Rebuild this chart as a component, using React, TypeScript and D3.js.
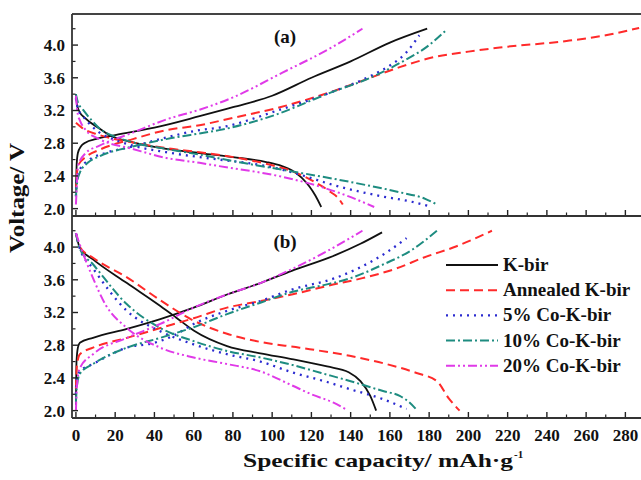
import React from 'react';
import * as d3 from 'd3';

// ---------- data (capacity mAh/g, voltage V) ----------
const seriesNames = ['K-bir', 'Annealed K-bir', '5% Co-K-bir', '10% Co-K-bir', '20% Co-K-bir'];
const xTickValues = d3.range(0, 281, 20);
const xMinorValues = d3.range(10, 290, 20);
const yTickValues = [2.0, 2.4, 2.8, 3.2, 3.6, 4.0];
const yMinorValues = [2.2, 2.6, 3.0, 3.4, 3.8, 4.2];

// panel (a)
const kbirChargeA = [[0, 2.2], [0.4, 2.55], [1, 2.68], [2.5, 2.76], [5, 2.81], [10, 2.85], [20, 2.9], [40, 2.99], [63, 3.13], [80, 3.24], [100, 3.38], [120, 3.6], [140, 3.8], [160, 4.03], [179, 4.2]];
const kbirDischargeA = [[0, 3.4], [0.5, 3.28], [1.5, 3.2], [5, 3.1], [12, 2.98], [17, 2.9], [29, 2.81], [46, 2.73], [63, 2.68], [80, 2.63], [97, 2.57], [105, 2.52], [110, 2.47], [115, 2.38], [119, 2.27], [122, 2.16], [125, 2.02]];
const annealedChargeA = [[0, 2.2], [0.5, 2.42], [1, 2.52], [5.5, 2.64], [12, 2.72], [29, 2.85], [46, 2.96], [63, 3.02], [80, 3.11], [104, 3.24], [134, 3.46], [150, 3.6], [165, 3.73], [182, 3.85], [200, 3.92], [216, 3.97], [250, 4.05], [270, 4.12], [287, 4.21]];
const annealedDischargeA = [[0, 3.05], [3, 2.99], [12, 2.9], [29, 2.81], [46, 2.74], [63, 2.69], [85, 2.61], [100, 2.53], [110, 2.46], [122, 2.32], [130, 2.2], [134, 2.12], [136, 2.05]];
const co5ChargeA = [[0, 2.15], [0.5, 2.35], [2, 2.48], [7, 2.6], [15, 2.68], [29, 2.76], [46, 2.87], [63, 2.96], [73, 2.99], [104, 3.21], [131, 3.43], [150, 3.62], [160, 3.75], [168, 3.9], [175, 4.12]];
const co5DischargeA = [[0, 3.35], [1, 3.22], [3.6, 3.13], [12, 2.93], [20, 2.84], [29, 2.77], [46, 2.69], [63, 2.63], [73, 2.6], [97, 2.52], [115, 2.41], [131, 2.29], [156, 2.15], [170, 2.09], [180, 2.03]];
const co10ChargeA = [[0, 2.15], [0.5, 2.3], [2, 2.44], [6, 2.56], [12, 2.64], [29, 2.76], [46, 2.85], [63, 2.92], [73, 2.96], [97, 3.11], [131, 3.43], [150, 3.6], [165, 3.78], [180, 4.0], [189, 4.19]];
const co10DischargeA = [[0, 3.4], [1, 3.3], [3.6, 3.21], [8, 3.08], [12, 2.98], [20, 2.88], [29, 2.81], [46, 2.73], [63, 2.66], [85, 2.56], [109, 2.46], [139, 2.33], [165, 2.2], [178, 2.12], [184, 2.05]];
const co20ChargeA = [[0, 2.05], [0.5, 2.3], [1, 2.52], [5, 2.68], [12, 2.77], [29, 2.93], [46, 3.09], [63, 3.21], [80, 3.36], [105, 3.66], [131, 3.98], [146, 4.2]];
const co20DischargeA = [[0, 3.38], [1, 3.15], [2, 3.08], [5, 2.96], [12, 2.85], [29, 2.73], [46, 2.62], [63, 2.56], [73, 2.52], [105, 2.39], [123, 2.28], [139, 2.15], [152, 2.02]];

// panel (b)
const kbirChargeB = [[0, 2.07], [0.3, 2.6], [1, 2.77], [2, 2.83], [8.7, 2.89], [26, 3.0], [43, 3.12], [60, 3.26], [77, 3.42], [94, 3.56], [110, 3.71], [129, 3.87], [145, 4.04], [156, 4.18]];
const kbirDischargeB = [[0, 4.17], [2, 3.99], [8.7, 3.85], [26, 3.56], [43, 3.28], [51, 3.14], [60, 2.98], [77, 2.79], [94, 2.7], [110, 2.63], [128, 2.54], [139, 2.47], [145, 2.36], [150, 2.18], [153, 2.0]];
const annealedChargeB = [[0, 2.27], [0.5, 2.55], [2, 2.69], [8.7, 2.77], [26, 2.89], [43, 3.01], [60, 3.13], [77, 3.26], [94, 3.34], [110, 3.42], [129, 3.53], [146, 3.62], [163.5, 3.74], [177, 3.87], [194, 4.01], [212, 4.2]];
const annealedDischargeB = [[0, 4.17], [2, 4.0], [8.7, 3.87], [26, 3.63], [43, 3.35], [60, 3.1], [77, 2.94], [94, 2.84], [114, 2.77], [139.5, 2.67], [156.5, 2.58], [173.6, 2.46], [184, 2.36], [190, 2.15], [195.5, 2.0]];
const co5ChargeB = [[0, 2.2], [0.5, 2.38], [2, 2.48], [8.7, 2.57], [26, 2.77], [40, 2.83], [50, 2.92], [60, 3.06], [77, 3.22], [94, 3.34], [110, 3.48], [132, 3.62], [143, 3.73], [158, 3.93], [168.5, 4.11]];
const co5DischargeB = [[0, 4.17], [2, 3.98], [8.7, 3.74], [26, 3.22], [43, 2.97], [60, 2.81], [77, 2.69], [94, 2.6], [110, 2.47], [128, 2.35], [140, 2.26], [156.5, 2.14], [168.5, 2.02]];
const co10ChargeB = [[0, 2.1], [0.5, 2.3], [2, 2.45], [8.7, 2.57], [26, 2.77], [43, 2.89], [60, 3.02], [77, 3.18], [94, 3.32], [110, 3.45], [129, 3.55], [140, 3.62], [155, 3.77], [171.5, 3.97], [184, 4.2]];
const co10DischargeB = [[0, 4.17], [2, 3.98], [8.7, 3.79], [26, 3.3], [43, 3.01], [60, 2.85], [77, 2.73], [94, 2.65], [110, 2.56], [125, 2.46], [140, 2.36], [156.5, 2.24], [165, 2.18], [170, 2.1], [174, 2.0]];
const co20ChargeB = [[0, 2.0], [0.5, 2.3], [2, 2.52], [8.7, 2.69], [26, 2.89], [43, 3.06], [60, 3.26], [77, 3.42], [94, 3.56], [110, 3.73], [128, 3.95], [146, 4.2]];
const co20DischargeB = [[0, 4.17], [2, 4.03], [8.7, 3.62], [15, 3.3], [26, 3.01], [43, 2.77], [60, 2.65], [77, 2.57], [94, 2.48], [110, 2.31], [120, 2.2], [131, 2.1], [138, 2.01]];

// ---------- styles ----------
const seriesStyles = [
  { color: '#111111', dash: 'none', width: 1.8 },
  { color: '#ff2a2a', dash: '9,5', width: 2 },
  { color: '#2b2bd0', dash: '2,5', width: 2.3 },
  { color: '#1e8c80', dash: '9,3,2,3', width: 2 },
  { color: '#e03ae8', dash: '9,3,2,3,2,3', width: 2 },
];

const FONT = '"Liberation Serif", "Times New Roman", serif';
const W = 641;
const H = 480;
const LEFT = 72;
const RIGHT = 645;

const x = d3.scaleLinear().domain([-2, 290]).range([LEFT, RIGHT]);

const panels = [
  {
    id: 'a', label: '(a)', top: 14, bottom: 216, labelY: 43,
    curves: [[kbirChargeA, kbirDischargeA], [annealedChargeA, annealedDischargeA], [co5ChargeA, co5DischargeA], [co10ChargeA, co10DischargeA], [co20ChargeA, co20DischargeA]],
  },
  {
    id: 'b', label: '(b)', top: 216, bottom: 418, labelY: 248,
    curves: [[kbirChargeB, kbirDischargeB], [annealedChargeB, annealedDischargeB], [co5ChargeB, co5DischargeB], [co10ChargeB, co10DischargeB], [co20ChargeB, co20DischargeB]],
  },
];

export default function App() {
  const legendYs = seriesNames.map((_, i) => 265 + i * 25.2);
  return (
    <svg width={W} height={H} style={{ position: 'absolute', left: 0, top: 0, background: '#fff' }} fontFamily={FONT}>
      <rect x={0} y={0} width={W} height={H} fill="#fff" />
      <defs>
        {panels.map((p) => (
          <clipPath id={`clip-${p.id}`} key={p.id}>
            <rect x={LEFT} y={p.top} width={RIGHT - LEFT} height={p.bottom - p.top} />
          </clipPath>
        ))}
      </defs>
      {panels.map((p) => {
        const y = d3.scaleLinear().domain([1.91, 4.38]).range([p.bottom, p.top]);
        const line = d3.line<number[]>().x((d) => x(d[0])).y((d) => y(d[1])).curve(d3.curveMonotoneX);
        return (
          <g key={p.id}>
            <g clipPath={`url(#clip-${p.id})`}>
              {p.curves.map((pair, si) =>
                pair.map((c, ci) => (
                  <path
                    key={`${si}-${ci}`}
                    d={line(c as number[][]) || ''}
                    fill="none"
                    stroke={seriesStyles[si].color}
                    strokeWidth={seriesStyles[si].width}
                    strokeDasharray={seriesStyles[si].dash}
                  />
                ))
              )}
            </g>
            {/* y ticks */}
            {yTickValues.map((v) => (
              <g key={`yt${v}`}>
                <line x1={LEFT} x2={LEFT + 6} y1={y(v)} y2={y(v)} stroke="#222" strokeWidth={1.4} />
                <text x={65} y={y(v)} dy="0.35em" textAnchor="end" fontSize={17} fontWeight="bold" fill="#111">
                  {v.toFixed(1)}
                </text>
              </g>
            ))}
            {yMinorValues.map((v) => (
              <line key={`ym${v}`} x1={LEFT} x2={LEFT + 3.5} y1={y(v)} y2={y(v)} stroke="#222" strokeWidth={1.2} />
            ))}
            {/* x ticks */}
            {xTickValues.map((v) => (
              <line key={`xt${v}`} x1={x(v)} x2={x(v)} y1={p.bottom} y2={p.bottom - 6} stroke="#222" strokeWidth={1.4} />
            ))}
            {xMinorValues.map((v) => (
              <line key={`xm${v}`} x1={x(v)} x2={x(v)} y1={p.bottom} y2={p.bottom - 3.5} stroke="#222" strokeWidth={1.2} />
            ))}
            <text x={285} y={p.labelY} textAnchor="middle" fontSize={19} fontWeight="bold" fill="#111">
              {p.label}
            </text>
          </g>
        );
      })}
      {/* frame */}
      <line x1={LEFT} x2={W} y1={14} y2={14} stroke="#444" strokeWidth={1.8} />
      <line x1={LEFT} x2={W} y1={216} y2={216} stroke="#333" strokeWidth={1.8} />
      <line x1={LEFT} x2={W} y1={418} y2={418} stroke="#333" strokeWidth={1.8} />
      <line x1={LEFT} x2={LEFT} y1={14} y2={418} stroke="#333" strokeWidth={1.8} />
      {/* x tick labels */}
      {xTickValues.map((v) => (
        <text key={`xl${v}`} x={x(v)} y={441} textAnchor="middle" fontSize={17} fontWeight="bold" fill="#111">
          {v}
        </text>
      ))}
      {/* axis titles */}
      <text x={243} y={467} fontSize={19} fontWeight="bold" fill="#111" textLength={270} lengthAdjust="spacingAndGlyphs">
        Specific capacity/ mAh·g
      </text>
      <text x={514} y={458} fontSize={11} fontWeight="bold" fill="#111">-1</text>
      <text transform="translate(24,198) rotate(-90)" textAnchor="middle" fontSize={20} fontWeight="bold" fill="#111" textLength={110} lengthAdjust="spacingAndGlyphs">
        Voltage/ V
      </text>
      {/* legend */}
      {seriesNames.map((name, i) => (
        <g key={name}>
          <line x1={446} x2={498} y1={legendYs[i]} y2={legendYs[i]} stroke={seriesStyles[i].color} strokeWidth={seriesStyles[i].width} strokeDasharray={seriesStyles[i].dash} />
          <text x={503} y={legendYs[i] + 6} fontSize={19} fontWeight="bold" fill="#111">
            {name}
          </text>
        </g>
      ))}
    </svg>
  );
}
